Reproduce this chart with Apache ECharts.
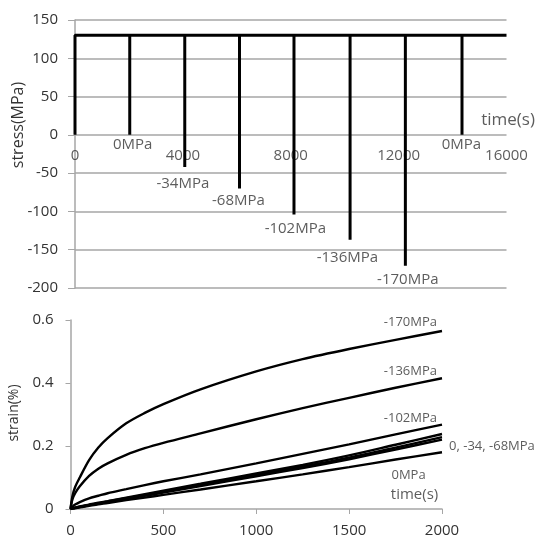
<!DOCTYPE html>
<html><head><meta charset="utf-8">
<script src="https://cdn.jsdelivr.net/npm/echarts@6/dist/echarts.min.js"></script>
<style>html,body{margin:0;padding:0;background:#fff}#c{width:542px;height:540px}</style>
</head><body><div id="c"></div>
<script>
// ---- top chart: stress history ----
const holdStress = 130;
const startTime = 0;
const endTime = 16000;
const spikeTimes = [2030, 4070, 6100, 8120, 10200, 12250, 14350];
const spikeMins = [0, -42, -70, -104, -137, -171, 0];
const spikeLabels = ['0MPa', '-34MPa', '-68MPa', '-102MPa', '-136MPa', '-170MPa', '0MPa'];
const spikeLabelTime = [2140, 4000, 6060, 8170, 10100, 12340, 14330];
const spikeLabelStress = [-13, -64, -86, -122, -161, -189, -13];
const topTimeTicks = [0, 4000, 8000, 12000, 16000];
const topTickLabelStress = -27.5;
const topAxisNameTime = [16056];
const topAxisNameStress = [19];

// ---- bottom chart: creep strain ----
const creepTime = [0, 10, 25, 50, 100, 150, 200, 300, 400, 500, 700, 1000, 1250, 1500, 1750, 2000];
const strain170 = [0, 0.04, 0.07, 0.10, 0.155, 0.195, 0.225, 0.272, 0.305, 0.333, 0.38, 0.437, 0.476, 0.508, 0.537, 0.565];
const strain136 = [0, 0.03, 0.05, 0.072, 0.105, 0.128, 0.145, 0.172, 0.193, 0.21, 0.24, 0.285, 0.32, 0.353, 0.385, 0.415];
const strain102 = [0, 0.007, 0.014, 0.022, 0.034, 0.042, 0.05, 0.063, 0.076, 0.088, 0.11, 0.145, 0.175, 0.205, 0.237, 0.268];
const strain0b = [0, 0.002, 0.004, 0.008, 0.014, 0.02, 0.025, 0.036, 0.047, 0.058, 0.08, 0.113, 0.14, 0.17, 0.204, 0.238];
const strain34 = [0, 0.002, 0.004, 0.007, 0.013, 0.018, 0.024, 0.034, 0.045, 0.055, 0.076, 0.108, 0.135, 0.163, 0.195, 0.228];
const strain68 = [0, 0.002, 0.003, 0.006, 0.012, 0.017, 0.022, 0.032, 0.042, 0.052, 0.073, 0.104, 0.13, 0.158, 0.189, 0.22];
const strain0a = [0, 0.001, 0.003, 0.005, 0.01, 0.015, 0.019, 0.028, 0.036, 0.045, 0.062, 0.088, 0.11, 0.133, 0.157, 0.18];
const creepLabels = ['-170MPa', '-136MPa', '-102MPa', '0, -34, -68MPa', '0MPa', 'time(s)'];
const creepLabelTime = [1973, 1973, 1973, 2038, 1820, 1852];
const creepLabelStrain = [0.594, 0.436, 0.289, 0.2, 0.108, 0.044];
const creepLabelAlign = ['right', 'right', 'right', 'left', 'center', 'center'];

const FONT = '"Open Sans", "Noto Sans", sans-serif';
const TXT = '#333';
const AX = '#a6a6a6';

// build stress path
const stressPath = [[startTime, 0], [startTime, holdStress]];
spikeTimes.forEach((t, i) => {
  stressPath.push([t, holdStress], [t, spikeMins[i]], [t, holdStress]);
});
stressPath.push([endTime, holdStress]);

const topAnno = spikeLabels.map((s, i) => ({ value: [spikeLabelTime[i], spikeLabelStress[i]], name: s }));
topAnno.push({ value: [topAxisNameTime[0], topAxisNameStress[0]], name: 'time(s)', label: { fontSize: 17 } });
topTimeTicks.forEach(t => topAnno.push({ value: [t, topTickLabelStress], name: String(t) }));

const creepSets = [strain170, strain136, strain102, strain0b, strain34, strain68, strain0a];
const creepSeries = creepSets.map(arr => ({
  type: 'line', xAxisIndex: 1, yAxisIndex: 1,
  data: creepTime.map((t, i) => [t, arr[i]]),
  showSymbol: false, smooth: 0.3,
  lineStyle: { color: '#000', width: 2.4 }, z: 3
}));

const botAnno = creepLabels.map((s, i) => ({
  value: [creepLabelTime[i], creepLabelStrain[i]], name: s,
  label: { align: creepLabelAlign[i], fontSize: s === 'time(s)' ? 15 : 13 }
}));

const chart = echarts.init(document.getElementById('c'), null, { renderer: 'canvas' });
chart.setOption({
  animation: false,
  backgroundColor: '#fff',
  textStyle: { fontFamily: FONT },
  grid: [
    { left: 75, right: 35.5, top: 20, bottom: 252 },
    { left: 70.5, right: 100, top: 320, bottom: 31 }
  ],
  xAxis: [
    {
      gridIndex: 0, type: 'value', min: 0, max: 16000, interval: 4000,
      axisLine: { show: false },
      axisTick: { show: false },
      axisLabel: { show: false },
      splitLine: { show: false }
    },
    {
      gridIndex: 1, type: 'value', min: 0, max: 2000, interval: 500,
      axisLine: { lineStyle: { color: AX, width: 1.5 } },
      axisTick: { show: true, length: 5, lineStyle: { color: AX } },
      axisLabel: { margin: 14, color: TXT, fontSize: 15, fontFamily: FONT, formatter: v => String(v) },
      splitLine: { show: false }
    }
  ],
  yAxis: [
    {
      gridIndex: 0, type: 'value', min: -200, max: 150, interval: 50,
      axisLine: { show: true, onZero: false, lineStyle: { color: AX, width: 1.5 } },
      axisTick: { show: true, length: 7, lineStyle: { color: AX } },
      axisLabel: { margin: 17, color: TXT, fontSize: 15, fontFamily: FONT },
      splitLine: { show: true, lineStyle: { color: AX, width: 1.5 } }
    },
    {
      gridIndex: 1, type: 'value', min: 0, max: 0.6, interval: 0.2,
      axisLine: { show: true, lineStyle: { color: AX, width: 1.5 } },
      axisTick: { show: true, length: 5, lineStyle: { color: AX } },
      axisLabel: { margin: 17, color: TXT, fontSize: 15, fontFamily: FONT },
      splitLine: { show: false }
    }
  ],
  graphic: [
    { type: 'text', x: 18, y: 125, rotation: Math.PI / 2,
      style: { text: 'stress(MPa)', font: '16px ' + FONT, fill: TXT, align: 'center', verticalAlign: 'middle' } },
    { type: 'text', x: 14.5, y: 413, rotation: Math.PI / 2,
      style: { text: 'strain(%)', font: '14px ' + FONT, fill: TXT, align: 'center', verticalAlign: 'middle' } }
  ],
  series: [
    {
      type: 'line', xAxisIndex: 0, yAxisIndex: 0, data: stressPath,
      showSymbol: false, lineStyle: { color: '#000', width: 3 }, z: 3
    },
    {
      type: 'scatter', xAxisIndex: 0, yAxisIndex: 0, data: topAnno, clip: false,
      symbolSize: 0, silent: true,
      label: { show: true, position: 'inside', formatter: p => p.name, color: TXT, fontSize: 15, fontFamily: FONT }
    },
    ...creepSeries,
    {
      type: 'scatter', xAxisIndex: 1, yAxisIndex: 1, data: botAnno, clip: false,
      symbolSize: 0, silent: true,
      label: { show: true, position: 'inside', formatter: p => p.name, color: TXT, fontSize: 13, fontFamily: FONT }
    }
  ]
});
</script></body></html>
